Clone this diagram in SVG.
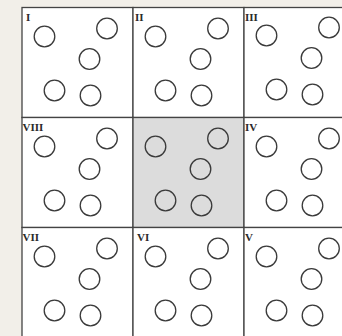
<svg xmlns="http://www.w3.org/2000/svg" xmlns:xlink="http://www.w3.org/1999/xlink" width="342" height="336" viewBox="0 0 342 336">
  <style>
    .cell { fill: #ffffff; stroke: #444444; stroke-width: 1.3; }
    .shaded { fill: #dcdcdc; }
    .dot { fill: none; stroke: #3a3a3a; stroke-width: 1.3; }
    .lbl { font-family: "Liberation Serif", "Times New Roman", serif; font-size: 11px; font-weight: bold; fill: #2a2a2a; }
  </style>
  <defs>
    <g id="dots">
      <circle class="dot" cx="22.5" cy="29" r="10.3"/>
      <circle class="dot" cx="85" cy="21" r="10.3"/>
      <circle class="dot" cx="67.5" cy="51.5" r="10.3"/>
      <circle class="dot" cx="32.5" cy="83" r="10.3"/>
      <circle class="dot" cx="68.5" cy="88" r="10.3"/>
    </g>
  </defs>
  <rect x="0" y="0" width="342" height="336" fill="#f2efe9"/>

  <g id="cell-I">
    <rect class="cell" x="22" y="7.5" width="111" height="110"/>
    <use xlink:href="#dots" href="#dots" transform="translate(22,7.5)"/>
    <text class="lbl" x="26" y="20.5">I</text>
  </g>
  <g id="cell-II">
    <rect class="cell" x="133" y="7.5" width="111" height="110"/>
    <use xlink:href="#dots" href="#dots" transform="translate(133,7.5)"/>
    <text class="lbl" x="135" y="20.5">II</text>
  </g>
  <g id="cell-III">
    <rect class="cell" x="244" y="7.5" width="111" height="110"/>
    <use xlink:href="#dots" href="#dots" transform="translate(244,6.5)"/>
    <text class="lbl" x="245" y="20.5">III</text>
  </g>
  <g id="cell-VIII">
    <rect class="cell" x="22" y="117.5" width="111" height="110"/>
    <use xlink:href="#dots" href="#dots" transform="translate(22,117.5)"/>
    <text class="lbl" x="22.5" y="130.5">VIII</text>
  </g>
  <g id="cell-center">
    <rect class="cell shaded" x="133" y="117.5" width="111" height="110"/>
    <use xlink:href="#dots" href="#dots" transform="translate(133,117.5)"/>
  </g>
  <g id="cell-IV">
    <rect class="cell" x="244" y="117.5" width="111" height="110"/>
    <use xlink:href="#dots" href="#dots" transform="translate(244,117.5)"/>
    <text class="lbl" x="245" y="130.5">IV</text>
  </g>
  <g id="cell-VII">
    <rect class="cell" x="22" y="227.5" width="111" height="110"/>
    <use xlink:href="#dots" href="#dots" transform="translate(22,227.5)"/>
    <text class="lbl" x="22.5" y="240.5">VII</text>
  </g>
  <g id="cell-VI">
    <rect class="cell" x="133" y="227.5" width="111" height="110"/>
    <use xlink:href="#dots" href="#dots" transform="translate(133,227.5)"/>
    <text class="lbl" x="137" y="240.5">VI</text>
  </g>
  <g id="cell-V">
    <rect class="cell" x="244" y="227.5" width="111" height="110"/>
    <use xlink:href="#dots" href="#dots" transform="translate(244,227.5)"/>
    <text class="lbl" x="245" y="240.5">V</text>
  </g>
  <g id="connectors"/>
</svg>
